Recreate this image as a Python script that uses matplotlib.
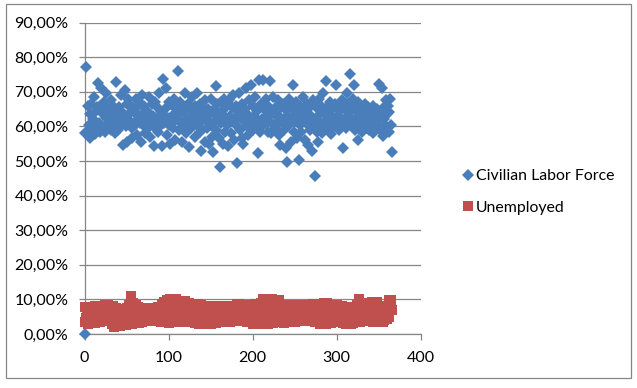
import numpy as np
import matplotlib
matplotlib.use('Agg')
import matplotlib.pyplot as plt
from matplotlib.patches import Rectangle

# values, one per day (%)
labor = [
    0.0, 58.2, 77.0, 58.0, 66.0, 60.5, 63.5, 56.6, 66.5, 59.0,
    62.0, 68.5, 57.8, 64.0, 60.0, 65.5, 72.4, 61.0, 58.5, 66.0,
    71.0, 59.5, 63.5, 67.0, 58.5, 69.5, 62.5, 60.0, 65.0, 61.0,
    64.5, 67.5, 59.0, 62.0, 66.0, 60.5, 58.0, 63.5, 72.9, 61.5,
    59.0, 65.5, 63.0, 69.0, 60.5, 64.0, 54.6, 62.0, 70.5, 60.0,
    66.5, 55.5, 68.0, 63.5, 61.5, 66.0, 59.5, 56.5, 65.0, 64.0,
    60.5, 68.0, 57.5, 65.5, 62.0, 67.0, 61.0, 55.5, 63.5, 69.0,
    60.5, 66.0, 58.0, 62.5, 64.5, 59.5, 63.5, 68.5, 57.0, 61.5,
    66.5, 60.0, 63.0, 54.3, 67.0, 61.5, 65.5, 58.5, 62.5, 69.5,
    60.0, 64.0, 54.3, 63.5, 73.6, 61.0, 65.0, 71.0, 57.5, 62.5,
    67.0, 60.5, 55.0, 66.5, 63.0, 59.5, 68.0, 61.5, 56.0, 65.0,
    62.0, 76.0, 63.5, 59.0, 67.0, 61.0, 55.5, 65.5, 60.5, 64.0,
    69.5, 58.0, 62.5, 66.5, 54.0, 61.5, 65.0, 59.5, 68.5, 63.0,
    60.5, 66.0, 57.0, 62.5, 69.5, 60.0, 64.5, 58.5, 66.5, 53.0,
    61.5, 65.5, 63.0, 55.5, 67.5, 62.0, 59.5, 65.0, 55.0, 63.5,
    68.0, 60.5, 57.0, 52.6, 65.0, 61.5, 71.7, 59.0, 66.5, 63.0,
    56.5, 48.2, 67.0, 61.0, 64.5, 55.0, 68.0, 58.5, 62.5, 65.5,
    60.5, 54.4, 67.5, 63.0, 58.0, 65.5, 61.5, 69.0, 56.0, 62.0,
    66.0, 49.4, 60.0, 64.0, 69.5, 59.0, 62.5, 56.5, 66.5, 54.8,
    61.5, 65.0, 71.0, 60.0, 63.5, 57.5, 67.5, 60.5, 72.0, 62.0,
    59.0, 66.0, 63.0, 68.5, 60.0, 64.5, 52.3, 61.5, 73.4, 58.5,
    66.5, 62.0, 73.5, 60.5, 65.0, 61.0, 68.0, 63.0, 58.5, 66.0,
    61.5, 73.0, 58.0, 64.0, 68.5, 60.5, 63.5, 59.5, 65.5, 61.0,
    67.5, 57.5, 63.0, 54.6, 65.5, 61.0, 66.5, 62.0, 59.0, 65.0,
    53.7, 49.7, 63.0, 68.0, 60.5, 65.5, 55.5, 62.5, 71.9, 58.5,
    64.5, 61.5, 67.0, 56.5, 63.5, 50.2, 66.0, 60.5, 58.5, 65.0,
    68.5, 62.0, 56.0, 64.0, 61.0, 66.5, 54.5, 61.5, 65.5, 59.0,
    63.0, 53.0, 67.5, 60.5, 45.6, 65.5, 62.0, 58.5, 55.6, 68.0,
    63.5, 60.5, 66.0, 58.0, 69.5, 64.0, 61.5, 59.5, 73.0, 65.5,
    60.5, 63.0, 67.0, 61.5, 57.8, 65.0, 62.5, 60.0, 66.5, 72.0,
    63.0, 60.5, 65.5, 59.0, 64.5, 61.5, 67.5, 60.5, 53.7, 65.5,
    62.5, 59.5, 66.5, 69.5, 61.0, 64.0, 75.0, 60.5, 66.0, 62.0,
    68.0, 72.0, 59.0, 64.5, 61.5, 67.0, 56.0, 63.0, 60.5, 65.5,
    58.5, 62.5, 65.0, 60.5, 66.5, 59.5, 63.5, 61.0, 65.5, 59.0,
    62.0, 64.0, 60.5, 58.0, 66.0, 61.5, 63.5, 59.5, 65.0, 60.5,
    62.5, 72.2, 59.0, 64.5, 71.0, 57.2, 62.0, 65.5, 60.5, 67.5,
    63.5, 66.0, 58.5, 64.0, 68.0, 60.5, 52.5,
]
unemployed = [
    3.5, 7.9, 4.5, 6.5, 3.0, 5.5, 7.5, 4.0, 6.0, 3.2,
    7.0, 5.0, 8.0, 3.3, 6.5, 4.5, 7.5, 5.5, 3.5, 8.2,
    6.0, 4.0, 7.0, 4.8, 8.3, 5.5, 3.8, 6.5, 8.4, 5.0,
    4.2, 7.8, 6.0, 3.0, 8.2, 2.0, 5.5, 7.5, 2.2, 6.5,
    4.0, 7.0, 2.4, 5.0, 6.5, 3.0, 7.2, 4.5, 6.0, 2.5,
    7.5, 5.0, 3.2, 8.5, 4.2, 11.0, 6.5, 2.8, 9.0, 5.5,
    3.5, 8.5, 6.0, 4.0, 7.8, 3.2, 6.5, 5.0, 7.5, 3.5,
    6.0, 4.5, 7.3, 3.8, 6.2, 4.5, 7.6, 5.2, 4.0, 6.8,
    3.8, 7.4, 5.0, 4.2, 7.6, 6.0, 3.8, 5.5, 7.7, 4.5,
    6.5, 3.6, 8.8, 5.2, 3.4, 9.2, 6.2, 3.4, 9.8, 5.8,
    3.2, 7.5, 10.1, 4.8, 3.4, 10.1, 6.5, 3.5, 8.8, 10.0,
    5.2, 3.4, 7.8, 9.3, 4.5, 3.4, 9.5, 6.5, 3.6, 8.5,
    9.5, 5.0, 3.5, 7.5, 9.0, 4.4, 3.4, 8.0, 6.0, 3.5,
    8.2, 5.0, 3.2, 7.5, 4.5, 8.6, 3.0, 6.2, 3.0, 8.4,
    5.5, 3.2, 7.0, 8.0, 4.5, 3.0, 7.2, 5.5, 3.4, 8.0,
    4.8, 3.0, 6.5, 7.8, 3.4, 5.5, 3.2, 7.6, 4.5, 3.4,
    6.8, 8.0, 3.6, 5.2, 3.4, 7.6, 4.8, 3.8, 6.5, 8.0,
    3.8, 5.5, 7.0, 3.6, 4.8, 8.1, 6.0, 3.8, 7.2, 4.2,
    5.5, 8.6, 3.7, 6.5, 8.7, 4.5, 3.8, 7.5, 5.5, 8.4,
    3.8, 6.2, 4.5, 7.0, 3.6, 8.2, 5.2, 3.8, 7.0, 8.5,
    4.4, 3.0, 6.5, 8.8, 2.9, 5.2, 8.0, 4.2, 2.8, 7.5,
    9.0, 3.0, 6.0, 10.1, 2.9, 5.0, 9.5, 4.0, 3.0, 10.0,
    7.0, 3.4, 5.5, 10.0, 3.2, 7.5, 4.5, 9.8, 3.5, 6.5,
    4.0, 9.8, 5.5, 3.5, 7.0, 8.0, 4.2, 3.2, 6.5, 8.5,
    3.6, 5.0, 7.5, 3.6, 6.2, 8.2, 4.5, 3.4, 7.0, 8.4,
    5.0, 3.6, 6.5, 8.3, 4.0, 3.7, 7.5, 5.5, 3.8, 6.8,
    8.4, 4.2, 3.8, 8.5, 6.0, 4.2, 7.5, 3.8, 5.2, 8.4,
    3.7, 6.2, 8.6, 4.5, 3.6, 7.5, 5.0, 3.4, 8.8, 6.2,
    3.0, 8.6, 4.5, 3.2, 7.5, 9.0, 5.0, 3.0, 7.0, 9.0,
    4.2, 3.2, 8.5, 6.0, 3.2, 8.2, 5.0, 3.8, 7.8, 4.5,
    8.3, 3.8, 6.2, 4.5, 7.6, 3.5, 5.8, 8.0, 3.2, 5.0,
    7.0, 3.0, 7.8, 5.0, 2.9, 6.2, 7.5, 3.0, 4.5, 7.6,
    3.2, 6.0, 7.5,
    5.0, 8.4, 3.6, 6.0, 10.1, 3.6, 5.5, 9.0, 4.0, 7.5,
    3.8, 8.0, 5.0, 7.2, 4.2, 8.0, 5.5, 4.0, 7.0, 9.3,
    4.8, 3.6, 8.0, 5.5, 3.8, 9.3, 6.0, 4.5, 7.8, 3.5,
    5.0, 8.0, 3.6, 6.0, 4.0, 8.0, 5.5, 4.2, 7.0, 9.8,
    5.0, 8.5, 9.8, 7.0,
]
days = list(range(len(labor)))
y_ticks = [0, 10, 20, 30, 40, 50, 60, 70, 80, 90]
y_labels = ['0,00%', '10,00%', '20,00%', '30,00%', '40,00%',
            '50,00%', '60,00%', '70,00%', '80,00%', '90,00%']
x_ticks = [0, 100, 200, 300, 400]

W, H = 637, 388
plt.rcParams['font.family'] = ['Lato', 'DejaVu Sans']
grey = '#868686'

fig = plt.figure(figsize=(W / 100, H / 100), dpi=100)
# chart frame
fig.add_artist(Rectangle((5.5 / W, 1 - 378 / H), 625 / W, 374.5 / H, fill=False,
                         edgecolor=grey, linewidth=0.9, transform=fig.transFigure))
ax = fig.add_axes([84.5 / W, 1 - 334 / H, 336 / W, 311.5 / H])

ax.plot(days, labor, 'D', color='#4A7EBB', ms=6.6, mew=0, clip_on=False,
        label='Civilian Labor Force', zorder=3)
ax.plot(days, unemployed, 's', color='#C0504D', ms=7.2, mew=0, clip_on=False,
        label='Unemployed', zorder=4)

ax.set_xlim(0, 400)
ax.set_ylim(0, 90)
ax.set_xticks(x_ticks)
ax.set_yticks(y_ticks, y_labels)
ax.grid(axis='y', color=grey, linewidth=0.9)
ax.set_axisbelow(True)
ax.spines[['top', 'right']].set_visible(False)
ax.spines[['left', 'bottom']].set_color(grey)
ax.spines[['left', 'bottom']].set_linewidth(0.9)
ax.tick_params(axis='both', labelcolor='black', labelsize=11.5, length=4, width=0.9, color=grey)
ax.tick_params(axis='y', pad=7.5)
ax.tick_params(axis='x', pad=8)

fig.legend(loc='upper left', bbox_to_anchor=(459 / W, 1 - 169 / H), frameon=False,
           fontsize=11.4, handletextpad=-0.15, labelspacing=1.12, borderpad=0,
           borderaxespad=0, handlelength=1.2)

fig.savefig('out.png', dpi=100)
